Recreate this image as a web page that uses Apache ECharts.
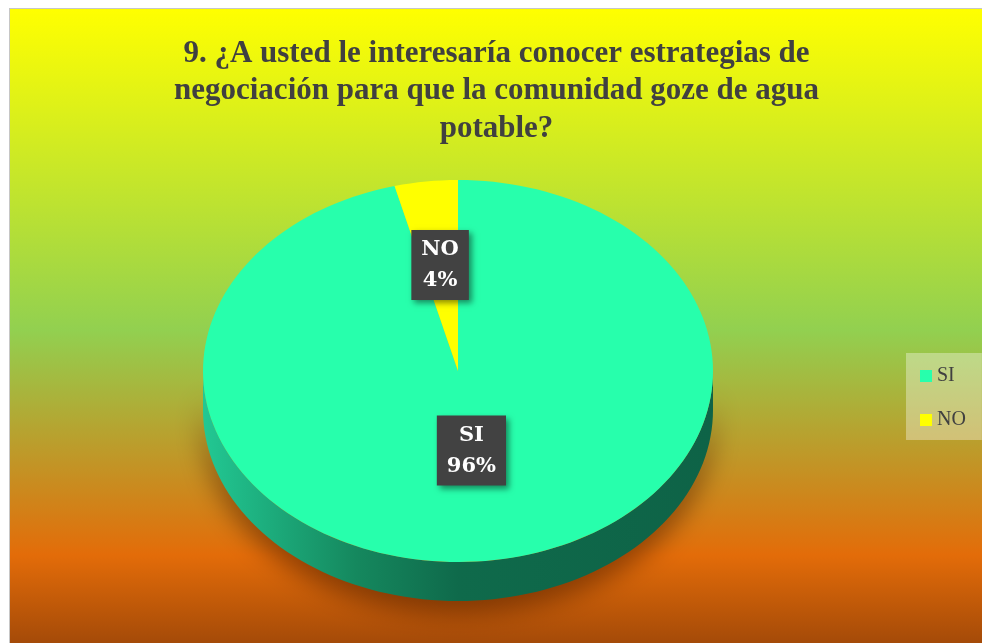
<!DOCTYPE html>
<html>
<head>
<meta charset="utf-8">
<script src="https://cdn.jsdelivr.net/npm/echarts@6/dist/echarts.min.js"></script>
<style>
    html, body { margin: 0; padding: 0; background: #fff; }
    #chart {
        position: absolute; left: 9px; top: 8px; width: 973px; height: 635px;
        border-left: 1px solid #c6c6c6; border-top: 1px solid #c6c6c6;
    }
</style>
</head>
<body>
<div id="chart"></div>
<script>
    const titleText = '9. ¿A usted le interesaría conocer estrategias de\nnegociación para que la comunidad goze de agua\npotable?'
    const categories = ['SI', 'NO']
    const values = [96, 4]
    const sliceColors = ['#27ffac', '#ffff00']

    const total = values.reduce((a, b) => a + b, 0)
    const depth = 39
    const labelRadius = [0.42, 0.56]

    // points on the unit circle (math angles, degrees) mapped through the axes
    function arcPoints(api, from, to, dy) {
        const pts = []
        const n = Math.max(2, Math.ceil(Math.abs(to - from) / 2))
        for (let i = 0; i <= n; i++) {
            const a = (from + (to - from) * i / n) * Math.PI / 180
            const p = api.coord([Math.cos(a), Math.sin(a)])
            pts.push([p[0], p[1] + dy])
        }
        return pts
    }

    function makeRender(idx) {
        let before = 0
        for (let i = 0; i < idx; i++) before += values[i]
        // clockwise from 12 o'clock, like the spreadsheet chart
        const a0 = 90 - before / total * 360
        const a1 = 90 - (before + values[idx]) / total * 360
        return function (params, api) {
            const center = api.coord([0, 0])
            const children = []
            const f0 = Math.max(a1, -180), f1 = Math.min(a0, 0)
            if (f1 > f0) {
                const top = arcPoints(api, f0, f1, 0)
                const bottom = arcPoints(api, f1, f0, depth)
                children.push({
                    type: 'polygon',
                    z2: 0,
                    shape: { points: top.concat(bottom) },
                    style: {
                        fill: new echarts.graphic.LinearGradient(0, 0, 1, 0, [
                            { offset: 0, color: '#22c893' },
                            { offset: 0.3, color: '#15885e' },
                            { offset: 0.5, color: '#0f6a4b' },
                            { offset: 1, color: '#0e6347' }
                        ]),
                        shadowBlur: 26,
                        shadowColor: 'rgba(80,30,0,0.6)',
                        shadowOffsetY: 12
                    }
                })
            }
            children.push({
                type: 'polygon',
                z2: 1,
                shape: { points: [center].concat(arcPoints(api, a0, a1, 0)) },
                style: { fill: sliceColors[idx] }
            })
            const mid = (a0 + a1) / 2 * Math.PI / 180
            const r = labelRadius[idx]
            const lp = api.coord([r * Math.cos(mid), r * Math.sin(mid)])
            children.push({
                type: 'text',
                z2: 10,
                x: lp[0],
                y: lp[1],
                style: {
                    text: categories[idx] + '\n' + Math.round(values[idx] / total * 100) + '%',
                    fill: '#ffffff',
                    font: 'bold 21px "DejaVu Serif"',
                    align: 'center',
                    verticalAlign: 'middle',
                    lineHeight: 31,
                    backgroundColor: '#424242',
                    padding: [4, 10],
                    shadowBlur: 6,
                    shadowColor: 'rgba(0,0,0,0.45)',
                    shadowOffsetX: 3,
                    shadowOffsetY: 3
                }
            })
            return { type: 'group', children: children }
        }
    }

    const chart = echarts.init(document.getElementById('chart'))
    chart.setOption({
        animation: false,
        backgroundColor: new echarts.graphic.LinearGradient(0, 0, 0, 1, [
            { offset: 0, color: '#ffff00' },
            { offset: 0.506, color: '#92d050' },
            { offset: 0.86, color: '#e36c09' },
            { offset: 1, color: '#a44a08' }
        ]),
        title: {
            text: titleText,
            left: 'center',
            top: 21,
            textStyle: {
                fontFamily: 'Liberation Serif',
                fontWeight: 'bold',
                fontSize: 31,
                lineHeight: 37.5,
                color: '#404040'
            }
        },
        legend: {
            orient: 'vertical',
            left: 896,
            top: 344,
            icon: 'rect',
            itemWidth: 12,
            itemHeight: 12,
            itemGap: 24,
            padding: [13, 16, 10, 14],
            backgroundColor: 'rgba(255,255,255,0.35)',
            textStyle: { fontFamily: 'Liberation Serif', fontSize: 20, color: '#404040' },
            data: categories
        },
        grid: { left: 193, top: 171, width: 510, height: 382 },
        xAxis: { type: 'value', min: -1, max: 1, show: false },
        yAxis: { type: 'value', min: -1, max: 1, show: false },
        series: categories.map((name, i) => ({
            type: 'custom',
            name: name,
            coordinateSystem: 'cartesian2d',
            itemStyle: { color: sliceColors[i] },
            data: [[0, 0]],
            renderItem: makeRender(i)
        }))
    })

    window.addEventListener('resize', () => {
        chart.resize()
    })
</script>
</body>
</html>
